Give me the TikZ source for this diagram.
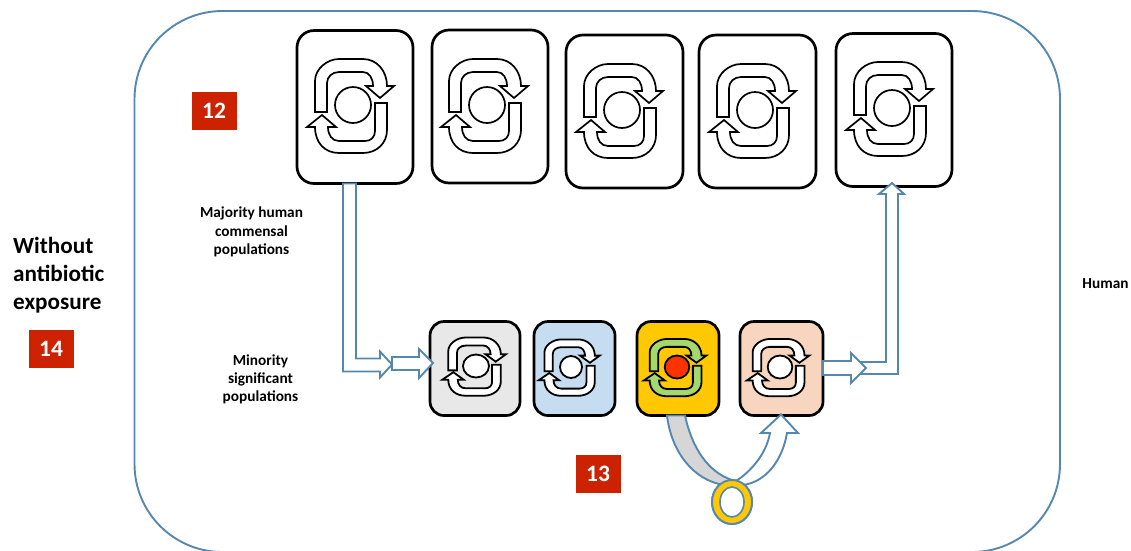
\documentclass[tikz,border=0pt]{standalone}
\usepackage{fontspec}
\setmainfont{Carlito}
\usetikzlibrary{calc,shapes.geometric}
\definecolor{linkblue}{HTML}{5587B0}
\definecolor{tagred}{HTML}{CC2200}
\definecolor{cellgray}{HTML}{E8E8E8}
\definecolor{cellblue}{HTML}{C6DCF0}
\definecolor{cellgold}{HTML}{FFC800}
\definecolor{cellpeach}{HTML}{F8D5BE}
\definecolor{loopgreen}{HTML}{A5D86A}
\definecolor{corered}{HTML}{FF3300}
\definecolor{plasmidgray}{HTML}{D6D6D6}
\tikzset{
  bigcell/.style={draw=black,line width=2.7pt,fill=white,rounded corners=17pt,minimum width=#1,minimum height=153pt,outer sep=0pt,inner sep=0pt},
  smallcell/.style={draw=black,line width=2.7pt,rounded corners=14pt,minimum height=94pt,outer sep=0pt,inner sep=0pt},
  tag/.style={fill=tagred,text=white,font=\fontsize{23.5}{23.5}\selectfont\bfseries,minimum width=45pt,minimum height=38pt,inner sep=0pt,outer sep=0pt},
  label/.style={font=\fontsize{15.3}{18.2}\selectfont\bfseries,align=center,inner sep=0pt,text=black},
  biglabel/.style={font=\fontsize{23.2}{28}\selectfont\bfseries,align=left,inner sep=0pt,text=black},
  blockarrow/.style={draw=linkblue,line width=1.9pt,fill=white,line join=miter},
}
% #1 centre, #2 xscale, #3 yscale, #4 loop fill, #5 core fill, #6 core rx, #7 core ry, #8 line width
\newcommand\loopicon[8]{%
  \begin{scope}[shift={(#1)},xscale=#2,yscale=#3,draw=black,line width=#8,line join=miter]
    \filldraw[fill=#4] (-38,7) -- (-38,-24) .. controls (-38,-36) and (-26,-46) .. (-14,-46)
      -- (10,-46) .. controls (24,-46) and (34,-34) .. (34,-19) -- (41,-19) -- (27,-7) -- (13,-19) -- (20,-19)
      .. controls (20,-27) and (16,-33) .. (10,-33) -- (-14,-33) .. controls (-21,-33) and (-26,-28) .. (-26,-22)
      -- (-26,7) -- cycle;
    \filldraw[fill=#4] (22,-2) -- (34,-2) -- (34,25) .. controls (34,38) and (24,48) .. (10,48)
      -- (-14,48) .. controls (-28,48) and (-38,38) .. (-38,22) -- (-46,22) -- (-31,10) -- (-17,22) -- (-25,22)
      .. controls (-25,30) and (-21,36) .. (-14,36) -- (12,36) .. controls (18,36) and (22,32) .. (22,26) -- cycle;
  \end{scope}
  \filldraw[fill=#5,draw=black,line width=#8] (#1) ellipse [x radius=#6,y radius=#7];
}
\begin{document}
\begin{tikzpicture}[x=1pt,y=-1pt]
\useasboundingbox (0,0) rectangle (1131,550);
\draw[draw=linkblue,line width=1.9pt,rounded corners=88pt] (134.5,11) rectangle (1060,552);

% upper row
\node[bigcell=116pt] (c1) at (355,107) {};
\node[bigcell=116pt] (c2) at (490,106.5) {};
\node[bigcell=117pt] (c3) at (624.5,111.5) {};
\node[bigcell=117pt] (c4) at (757.5,111.5) {};
\node[bigcell=116pt] (c5) at (894,110) {};
\coordinate (i1) at (353,105);
\coordinate (i2) at (487,105);
\coordinate (i3) at (622,110);
\coordinate (i4) at (755,110);
\coordinate (i5) at (892,108);
\foreach \n in {i1,i2,i3,i4,i5}{\loopicon{\n}{1}{1}{white}{white}{18}{18}{1.7pt}}

% lower row
\node[smallcell,fill=cellgray,minimum width=90pt] (s1) at (475,368.5) {};
\node[smallcell,fill=cellblue,minimum width=81pt] (s2) at (574.5,368.5) {};
\node[smallcell,fill=cellgold,minimum width=82pt] (s3) at (678,368.5) {};
\node[smallcell,fill=cellpeach,minimum width=83pt] (s4) at (781.5,368.5) {};
\coordinate (j1) at (476,366);
\coordinate (j2) at (571,367);
\coordinate (j3) at (677,367);
\coordinate (j4) at (780,367);
\loopicon{j1}{.73}{.62}{white}{white}{13}{11.5}{1.8pt}
\loopicon{j2}{.70}{.60}{white}{white}{11}{11}{1.8pt}
\loopicon{j3}{.72}{.61}{loopgreen}{corered}{12.3}{11.5}{1.8pt}
\loopicon{j4}{.72}{.61}{white}{white}{12.3}{11.5}{1.8pt}

% connectors
\draw[blockarrow] ($(c1.south)+(-12,0)$) -- ++(0,188) -- ++(37,0) -- ++(0,6) -- ++(12,-13) -- ++(-12,-13) -- ++(0,7) -- ++(-24,0) -- ($(c1.south)+(1,0)$) -- cycle;
\draw[blockarrow] ($(s1.west)+(-38,-11.5)$) -- ++(27,0) -- ++(0,-8) -- ++(14,14) -- ++(-14,15) -- ++(0,-8) -- ++(-27,0) -- cycle;
\draw[blockarrow] ($(s4.east)+(37,-6.5)$) -- ++(26,0) -- ($(c5.south)+(-8,7.5)$) -- ++(-7,0) -- ($(c5.south)+(-2,-3.5)$) -- ($(c5.south)+(10,7.5)$) -- ++(-6,0) -- ++(0,180) -- ++(-38,0) -- cycle;
\draw[blockarrow] (s4.east |- 0,361) -- ++(28,0) -- ++(0,-8) -- ++(15,15) -- ++(-15,15) -- ++(0,-8) -- ++(-28,0) -- cycle;

% plasmid transfer
\node[draw=linkblue,line width=1.9pt,fill=cellgold,ellipse,minimum width=40pt,minimum height=44pt,inner sep=0pt,outer sep=0pt] (ring) at (732,502) {};
\draw[blockarrow,fill=plasmidgray] ($(s3.south)+(-11,0)$) .. controls (671,450) and (692,480) .. (724,485) -- (ring.north) .. controls (708,472) and (692,448) .. ($(s3.south)+(7,0)$) -- cycle;
\coordinate (tip) at ($(s4.south)+(-0.5,-1)$);
\draw[blockarrow] (736,481) .. controls (750,472) and (766,455) .. (770,433) -- (761,433) -- (tip) -- (798,433) -- (787,433) .. controls (782,462) and (765,482) .. (743,485) -- cycle;
\node[draw=linkblue,line width=1.9pt,fill=cellgold,ellipse,minimum width=40pt,minimum height=44pt,inner sep=0pt,outer sep=0pt] (ring2) at (ring) {};
\node[draw=linkblue,line width=1.6pt,fill=white,ellipse,minimum width=24pt,minimum height=30pt,inner sep=0pt,outer sep=0pt] (hole) at (ring) {};

% tags
\node[tag] (t12) at (214.5,111) {\raisebox{-1.5pt}{\kern-1pt 12}};
\node[tag] (t13) at (598.5,474) {\raisebox{-1.5pt}{\kern-1pt 13}};
\node[tag] (t14) at (51.5,349) {\raisebox{-1.5pt}{\kern-1pt 14}};

% labels
\node[label] (major) at (251.5,232) {Majority human\\commensal\\populations};
\node[label] (minor) at (260.5,379.5) {Minority\\significant\\populations};
\node[label] (human) at (1105.5,284) {Human};
\node[biglabel,anchor=west] (noab) at (13,275) {Without\\antibiotic\\exposure};
\end{tikzpicture}
\end{document}
